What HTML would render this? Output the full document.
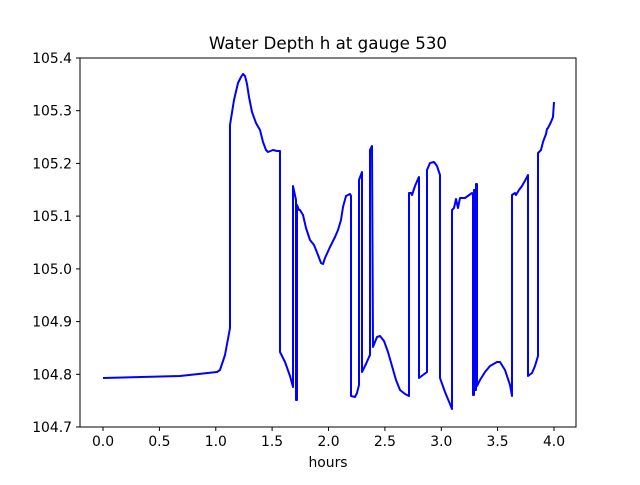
<!DOCTYPE html><html><head><style>body{margin:0;background:#fff}svg text{font-family:"DejaVu Sans",sans-serif;font-size:13.9px;fill:#000}</style></head><body>
<svg width="640" height="480" viewBox="0 0 640 480">
<rect x="80" y="58" width="496" height="369" fill="none" stroke="#000" stroke-width="1"/>
<text x="328" y="49" text-anchor="middle" style="font-size:16.7px">Water Depth h at gauge 530</text>
<text x="328" y="467" text-anchor="middle">hours</text>
<g stroke="#000" stroke-width="1">
<line x1="103" y1="427" x2="103" y2="431"/><line x1="159.4" y1="427" x2="159.4" y2="431"/><line x1="215.8" y1="427" x2="215.8" y2="431"/><line x1="272.1" y1="427" x2="272.1" y2="431"/><line x1="328.5" y1="427" x2="328.5" y2="431"/><line x1="384.9" y1="427" x2="384.9" y2="431"/><line x1="441.3" y1="427" x2="441.3" y2="431"/><line x1="497.6" y1="427" x2="497.6" y2="431"/><line x1="554" y1="427" x2="554" y2="431"/>
<line x1="76" y1="58" x2="80" y2="58"/><line x1="76" y1="110.7" x2="80" y2="110.7"/><line x1="76" y1="163.4" x2="80" y2="163.4"/><line x1="76" y1="216.1" x2="80" y2="216.1"/><line x1="76" y1="268.9" x2="80" y2="268.9"/><line x1="76" y1="321.6" x2="80" y2="321.6"/><line x1="76" y1="374.3" x2="80" y2="374.3"/><line x1="76" y1="427" x2="80" y2="427"/>
</g>
<g text-anchor="middle">
<text x="103" y="446">0.0</text><text x="159.4" y="446">0.5</text><text x="215.8" y="446">1.0</text><text x="272.1" y="446">1.5</text><text x="328.5" y="446">2.0</text><text x="384.9" y="446">2.5</text><text x="441.3" y="446">3.0</text><text x="497.6" y="446">3.5</text><text x="554" y="446">4.0</text>
</g>
<g text-anchor="end">
<text x="72" y="63">105.4</text><text x="72" y="115.7">105.3</text><text x="72" y="168.4">105.2</text><text x="72" y="221.1">105.1</text><text x="72" y="273.9">105.0</text><text x="72" y="326.6">104.9</text><text x="72" y="379.3">104.8</text><text x="72" y="432">104.7</text>
</g>
<polyline fill="none" stroke="#0000ff" stroke-width="2" stroke-linejoin="round" points="103,378 180,376 217,372 220,370 225,355 230,328 230,125 234,100 238,83 241,77 243,74 245,76 247,84 249,97 252,112 256,123 260,130 263,142 266,150 268,152 273,150 277,151 280,151 280,352 285,362 290,376 293,387 293,186 296,200 296,400 297,400 297,205 299,210 300,210 303,215 306,228 310,240 314,245 318,255 321,263 323,264 325,258 330,247 335,237 338,230 341,220 343,207 346,196 350,194 351,196 351,396 355,397 357,393 359,385 359,180 362,172 362,372 366,364 369,357 370,355 370,150 372,146 373,347 377,337 380,336 384,341 388,352 392,366 396,380 400,390 405,394 409,396 409,193 411,193 412,195 415,186 418,179 419,177 419,378 427,372 427,170 430,163 434,162 437,166 440,175 440,378 445,392 450,404 452,409 452,210 454,208 456,199 458,208 460,198 465,198 472,193 473,194 473,395 474,395 474,190 475,190 475,390 476,390 476,184 477,184 477,386 480,380 485,372 490,366 497,362 500,362 505,370 510,385 512,396 512,195 515,193 516,195 519,190 522,186 527,177 528,175 528,376 532,373 535,366 538,356 538,153 541,150 543,142 546,134 547,129 548,128 549,126 551,122 553,117 554,102"/>
</svg></body></html>
